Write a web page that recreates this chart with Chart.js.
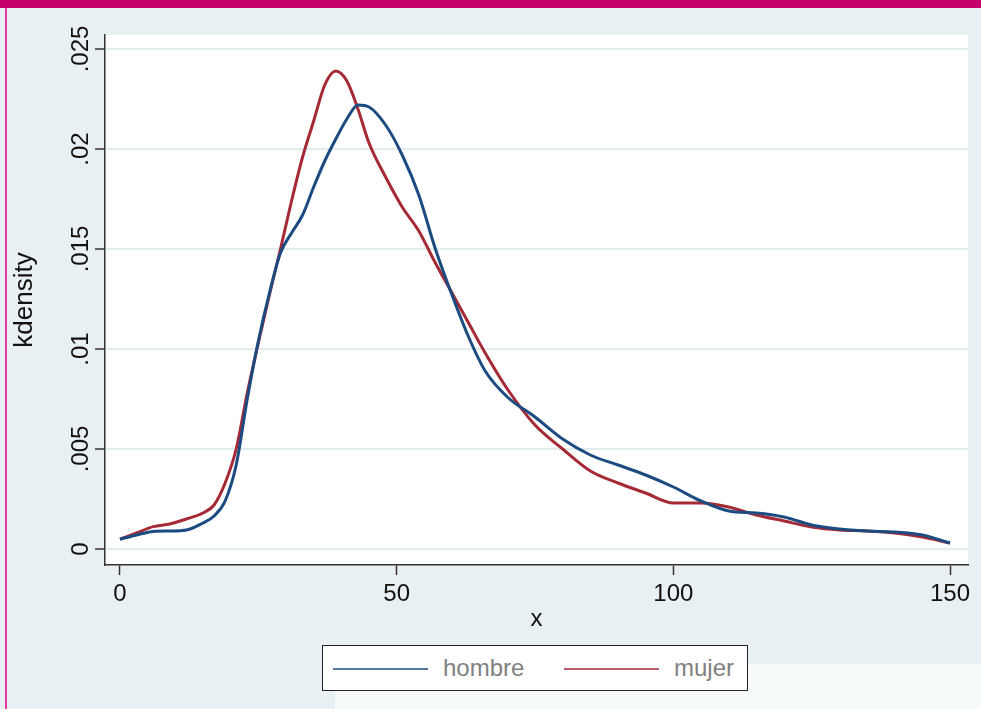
<!DOCTYPE html>
<html>
<head>
<meta charset="utf-8">
<script src="https://cdn.jsdelivr.net/npm/chart.js@4.4.1/dist/chart.umd.min.js"></script>
<style>
  html, body { margin: 0; padding: 0; }
  body { width: 981px; height: 709px; background: #e9f0f3; position: relative; overflow: hidden; font-family: "Liberation Sans", Arial, sans-serif; }
  #topbar { position: absolute; left: 0; top: 0; width: 981px; height: 8px; background: #c3006b; }
  #leftline { position: absolute; left: 5px; top: 8px; width: 2px; height: 701px; background: #e03ca6; }
  #patch { position: absolute; left: 335px; top: 664px; width: 646px; height: 45px; background: #f7fafb; }
  #wrap { position: absolute; left: 0; top: 0; width: 981px; height: 709px; }
  #legend { position: absolute; left: 322px; top: 645px; width: 426px; height: 46px; border: 1.5px solid #222; background: #fff; box-sizing: border-box; }
  .lg-line { position: absolute; top: 22px; width: 95px; height: 2px; opacity: 0.75; }
  .lg-text { position: absolute; top: 8px; font-size: 24px; line-height: 28px; color: #808080; }
</style>
</head>
<body>
<div id="topbar"></div>
<div id="leftline"></div>
<div id="patch"></div>
<div id="wrap"><canvas id="kdChart" width="981" height="709"></canvas></div>
<div id="legend"></div>
<script>
const xValues = [0, 3, 6, 9, 12, 15, 17, 19, 21, 23, 25, 27, 29, 31, 33, 35, 37, 39, 41, 43, 45, 48, 51, 54, 57, 60, 63, 66, 70, 75, 80, 85, 90, 95, 100, 105, 110, 115, 120, 125, 130, 135, 140, 145, 150];
const hombre = [0.00049, 0.0007, 0.00088, 0.0009, 0.00095, 0.0013, 0.00165, 0.0024, 0.0042, 0.0075, 0.0104, 0.0128, 0.0148, 0.0158, 0.0167, 0.0181, 0.0194, 0.0205, 0.0215, 0.0222, 0.0221, 0.0212, 0.0197, 0.0177, 0.0150, 0.0127, 0.0106, 0.0089, 0.0076, 0.0066, 0.0055, 0.0047, 0.0042, 0.0037, 0.0031, 0.0024, 0.0019, 0.0018, 0.0016, 0.0012, 0.0010, 0.0009, 0.00085, 0.0007, 0.0003];
const mujer = [0.00049, 0.0008, 0.00112, 0.00125, 0.0015, 0.0018, 0.0022, 0.0033, 0.0050, 0.0078, 0.0103, 0.0127, 0.0150, 0.0174, 0.0196, 0.0214, 0.0232, 0.0239, 0.0234, 0.0220, 0.0203, 0.0186, 0.0171, 0.0159, 0.0143, 0.0128, 0.0113, 0.0098, 0.0080, 0.0062, 0.0050, 0.0039, 0.0033, 0.0028, 0.0023, 0.0023, 0.0021, 0.0017, 0.0014, 0.0011, 0.00095, 0.0009, 0.0008, 0.0006, 0.0003];
const seriesNames = ['hombre', 'mujer'];
const seriesColors = ['#1b4b80', '#a52a36'];
const xTickValues = [0, 50, 100, 150];
const yTickValues = [0, 0.005, 0.01, 0.015, 0.02, 0.025];
const yTickLabels = ['0', '.005', '.01', '.015', '.02', '.025'];

const FONT = '"Liberation Sans", Arial, sans-serif';

const plotBg = {
    id: 'plotBg',
    beforeDraw(chart) {
        const { ctx, chartArea: a } = chart;
        ctx.save();
        ctx.fillStyle = '#ffffff';
        ctx.fillRect(a.left, a.top, a.right - a.left, a.bottom - a.top);
        ctx.restore();
    }
};

// Stata-style vertical y tick labels
const yLabels = {
    id: 'yLabels',
    afterDraw(chart) {
        const { ctx, scales: { y } } = chart;
        ctx.save();
        ctx.font = '24px ' + FONT;
        ctx.fillStyle = '#111';
        ctx.textAlign = 'center';
        ctx.textBaseline = 'alphabetic';
        yTickValues.forEach((v, i) => {
            ctx.save();
            ctx.translate(88, y.getPixelForValue(v));
            ctx.rotate(-Math.PI / 2);
            ctx.fillText(yTickLabels[i], 0, 0);
            ctx.restore();
        });
        ctx.restore();
    }
};

const datasets = [hombre, mujer].map((vals, i) => ({
    label: seriesNames[i],
    data: xValues.map((x, j) => ({ x: x, y: vals[j] })),
    borderColor: seriesColors[i],
    borderWidth: 3,
    pointRadius: 0,
    fill: false,
    cubicInterpolationMode: 'monotone'
}));

const ctx = document.getElementById('kdChart').getContext('2d');
const kdChart = new Chart(ctx, {
    type: 'line',
    data: { datasets: datasets },
    options: {
        responsive: false,
        animation: false,
        layout: { padding: { left: 0, top: 35, right: 13, bottom: 0 } },
        plugins: {
            legend: { display: false },
            tooltip: { enabled: false }
        },
        scales: {
            x: {
                type: 'linear',
                min: -2.71,
                max: 153.25,
                afterBuildTicks: s => { s.ticks = xTickValues.map(v => ({ value: v })); },
                afterFit: s => { s.height = 144; },
                grid: { drawOnChartArea: false, drawTicks: true, tickLength: 10, tickColor: '#333', tickWidth: 1.5 },
                border: { display: true, color: '#333', width: 1.5 },
                ticks: { font: { size: 24, family: FONT }, color: '#111', padding: 5, maxRotation: 0 },
                title: { display: true, text: 'x', font: { size: 24, family: FONT }, color: '#111', padding: { top: 0, bottom: 75 } }
            },
            y: {
                type: 'linear',
                min: -0.0008,
                max: 0.0257,
                afterBuildTicks: s => { s.ticks = yTickValues.map(v => ({ value: v })); },
                afterFit: s => { s.width = 105; },
                grid: { color: '#e1eded', lineWidth: 2, drawTicks: true, tickLength: 10, tickColor: '#333', tickWidth: 1.5 },
                border: { display: true, color: '#333', width: 1.5 },
                ticks: { display: false },
                title: { display: true, text: 'kdensity', font: { size: 26, family: FONT }, color: '#111', padding: { top: 9, bottom: 0 } }
            }
        }
    },
    plugins: [plotBg, yLabels]
});

// legend box under the plot
const legendEl = document.getElementById('legend');
const lgPos = [[10, 120], [241, 351]];
kdChart.data.datasets.forEach((ds, i) => {
    const line = document.createElement('div');
    line.className = 'lg-line';
    line.style.left = lgPos[i][0] + 'px';
    line.style.background = ds.borderColor;
    legendEl.appendChild(line);
    const txt = document.createElement('div');
    txt.className = 'lg-text';
    txt.style.left = lgPos[i][1] + 'px';
    txt.textContent = ds.label;
    legendEl.appendChild(txt);
});
</script>
</body>
</html>
